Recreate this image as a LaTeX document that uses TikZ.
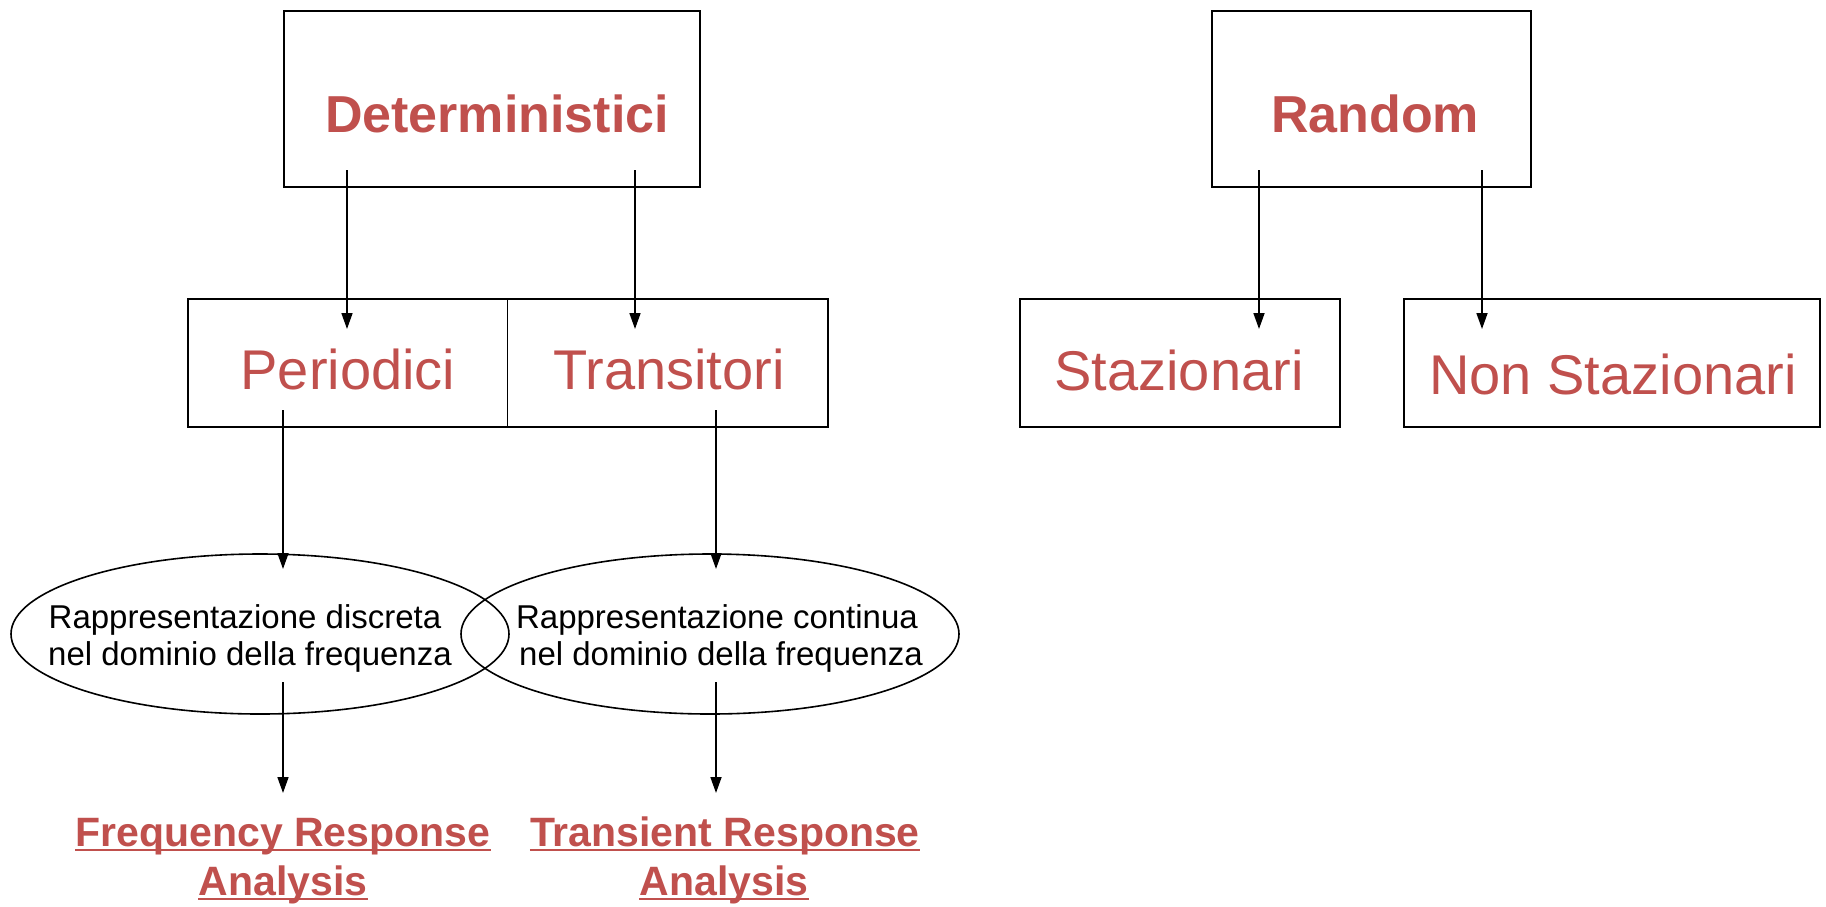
\documentclass[tikz,border=0pt]{standalone}
\usepackage{fontspec}
\setmainfont{Liberation Sans}
\usetikzlibrary{arrows.meta,shapes.geometric}
\definecolor{accred}{HTML}{C0504D}
\begin{document}
\begin{tikzpicture}[x=1pt,y=-1pt,
  box/.style={draw=black,line width=2pt,inner sep=0pt,anchor=north west},
  oval/.style={draw=black,ellipse,line width=1.6pt,inner sep=0pt},
  arr/.style={draw=black,line width=1.7pt,-{Triangle[length=16pt,width=11pt]}},
  bigbold/.style={text=accred,inner sep=0pt,anchor=base,font=\fontsize{52}{56}\selectfont\bfseries},
  big/.style={text=accred,inner sep=0pt,anchor=base,font=\fontsize{56}{60}\selectfont},
  small/.style={text=black,inner sep=0pt,anchor=base,font=\fontsize{33}{37}\selectfont},
  res/.style={text=accred,inner sep=0pt,anchor=base,font=\fontsize{41}{45}\selectfont\bfseries},
  uline/.style={draw=accred,line width=2.5pt}
]
\useasboundingbox (0,0) rectangle (1826,906);
\fill[white] (0,0) rectangle (1826,906);

% boxes
\node[box,minimum width=416pt,minimum height=176pt] (det) at (283,10) {};
\node[box,minimum width=319pt,minimum height=176pt] (rnd) at (1211,10) {};
\node[box,minimum width=640pt,minimum height=128pt] (pt) at (187,298) {};
\draw[line width=1pt] (507,298) -- (507,426);
\node[box,minimum width=320pt,minimum height=128pt] (sta) at (1019,298) {};
\node[box,minimum width=416pt,minimum height=128pt] (nsta) at (1403,298) {};

% ellipses
\node[oval,minimum width=498pt,minimum height=160pt] (el1) at (260,634) {};
\node[oval,minimum width=498pt,minimum height=160pt] (el2) at (710,634) {};

% texts
\node[bigbold] (tdet) at (497,132) {Deterministici};
\node[bigbold] (trnd) at (1375,132) {Random};
\node[big] (tper) at (348,389) {Periodici};
\node[big] (ttra) at (669,389) {Transitori};
\node[big] (tsta) at (1179,390) {Stazionari};
\node[big] (tnsta) at (1613,394) {Non Stazionari};

\node[small] (e1a) at (245,628) {Rappresentazione discreta};
\node[small] (e1b) at (250,665) {nel dominio della frequenza};
\node[small] (e2a) at (717,628) {Rappresentazione continua};
\node[small] (e2b) at (721,665) {nel dominio della frequenza};

\node[res] (fr1) at (283,846) {Frequency Response};
\node[res] (fr2) at (283,895) {Analysis};
\node[res] (tr1) at (725,846) {Transient Response};
\node[res] (tr2) at (724,895) {Analysis};
\foreach \n in {fr1,fr2,tr1,tr2}
  \draw[uline] ([yshift=-4pt]\n.base west) -- ([yshift=-4pt]\n.base east);

% arrow endpoints
\coordinate (a1s) at (347,170); \coordinate (a1e) at (347,329);
\coordinate (a2s) at (635,170); \coordinate (a2e) at (635,329);
\coordinate (a3s) at (1259,170); \coordinate (a3e) at (1259,329);
\coordinate (a4s) at (1482,170); \coordinate (a4e) at (1482,329);
\coordinate (a5s) at (283,410); \coordinate (a5e) at (283,569);
\coordinate (a6s) at (716,410); \coordinate (a6e) at (716,569);
\coordinate (a7s) at (283,682); \coordinate (a7e) at (283,793);
\coordinate (a8s) at (716,682); \coordinate (a8e) at (716,793);

\foreach \i in {1,...,8}
  \draw[arr] (a\i s) -- (a\i e);
\end{tikzpicture}
\end{document}
